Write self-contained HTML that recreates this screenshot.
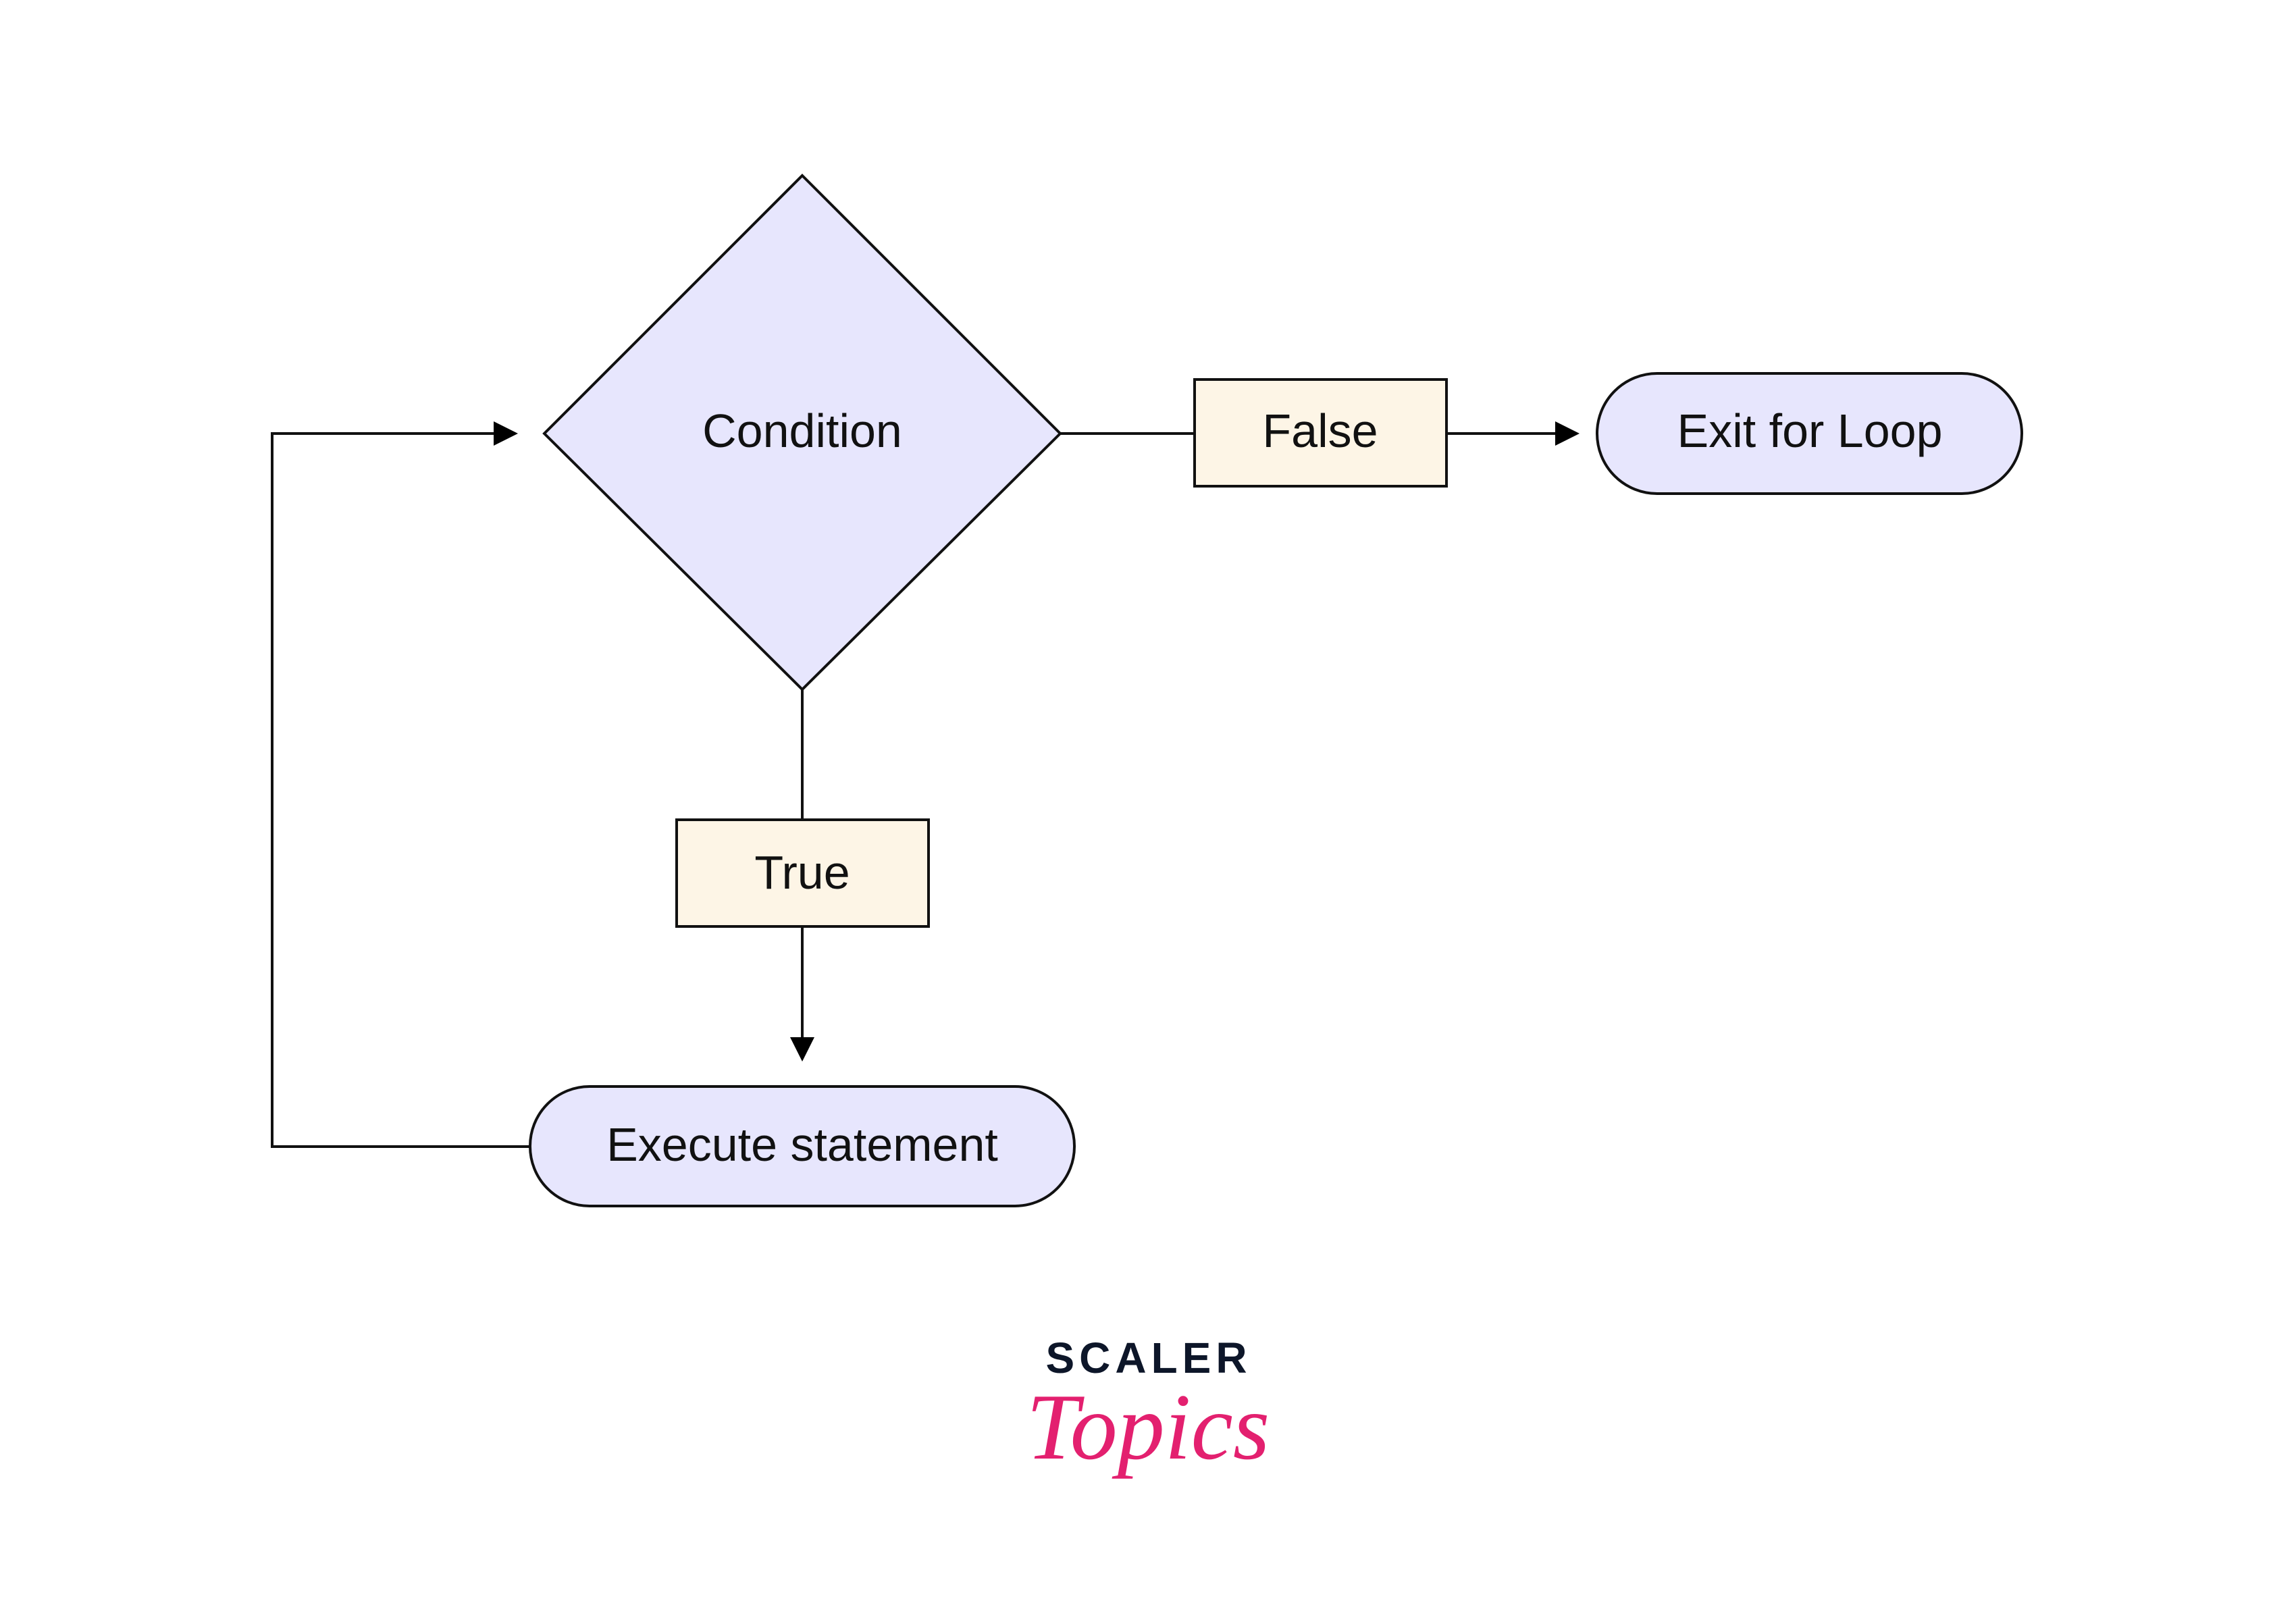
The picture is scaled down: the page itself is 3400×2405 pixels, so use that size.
<!DOCTYPE html>
<html><head><meta charset="utf-8"><style>
html,body{margin:0;padding:0;background:#fff;}
svg{display:block;}
text{font-family:"Liberation Sans",sans-serif;fill:#111;}
</style></head><body>
<svg width="3400" height="2405" viewBox="0 0 3400 2405" xmlns="http://www.w3.org/2000/svg">
<rect width="3400" height="2405" fill="#fff"/>
<g stroke="#111" stroke-width="4" fill="none">
<polygon points="1188,260 1570,642 1188,1021 806,642" fill="#e7e6fd"/>
<line x1="1570" y1="642" x2="1769" y2="642"/>
<line x1="2142" y1="642" x2="2305" y2="642"/>
<line x1="1188" y1="1021" x2="1188" y2="1214"/>
<line x1="1188" y1="1372" x2="1188" y2="1537"/>
<polyline points="785,1698 403,1698 403,642 732,642"/>
<rect x="1769" y="562" width="373" height="158" fill="#fdf5e6"/>
<rect x="1002" y="1214" width="373" height="158" fill="#fdf5e6"/>
<rect x="2365" y="553" width="629" height="178" rx="89" fill="#e7e6fd"/>
<rect x="785" y="1609" width="806" height="177" rx="88" fill="#e7e6fd"/>
</g>
<g fill="#000">
<polygon points="2339,642 2303,624 2303,660"/>
<polygon points="767,642 731,624 731,660"/>
<polygon points="1188,1572 1170,1536 1206,1536"/>
</g>
<g font-size="70" text-anchor="middle">
<text x="1188" y="662">Condition</text>
<text x="1955" y="662">False</text>
<text x="2680" y="662">Exit for Loop</text>
<text x="1188" y="1316">True</text>
<text x="1188" y="1719">Execute statement</text>
</g>
<text x="1701" y="2033" font-size="64" font-weight="bold" text-anchor="middle" style="fill:#0d1629;letter-spacing:7px">SCALER</text>
<text x="1700" y="2160" font-size="140" font-style="italic" text-anchor="middle" style="fill:#e3206f;font-family:'Liberation Serif',serif">Topics</text>
</svg>
</body></html>
